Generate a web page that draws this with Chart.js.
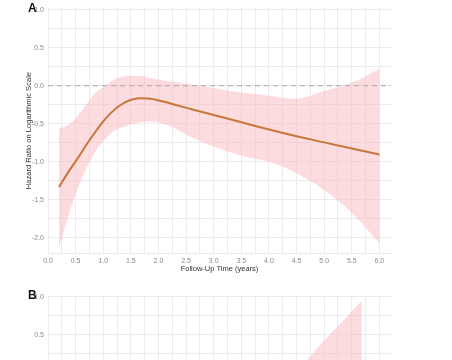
<!DOCTYPE html>
<html>
<head>
<meta charset="utf-8">
<script src="https://cdn.jsdelivr.net/npm/chart.js@4"></script>
<style>
  html, body { margin: 0; padding: 0; background: #fff; }
  body { width: 452px; height: 360px; overflow: hidden; position: relative; }
  .panel { position: absolute; left: 0; width: 452px; height: 280px; }
  .tag { position: absolute; font: bold 12px "Liberation Sans", Arial, sans-serif; color: #111; }
</style>
</head>
<body>
<div class="panel" style="top:0"><canvas id="chartA" width="452" height="280"></canvas></div>
<div class="panel" style="top:287px"><canvas id="chartB" width="452" height="280"></canvas></div>
<div class="tag" style="left:28px;top:1px">A</div>
<div class="tag" style="left:28px;top:288px">B</div>
<script>
// panel A: follow-up years, log hazard ratio and its band
const yearsA = [0.2, 0.4, 0.55, 0.7, 0.85, 1.0, 1.15, 1.3, 1.45, 1.65, 1.85, 2.2, 2.6, 3.0, 3.5, 4.0, 4.5, 5.0, 5.5, 6.0];
const logHrA = [-1.33, -1.10, -0.94, -0.77, -0.615, -0.47, -0.35, -0.26, -0.20, -0.165, -0.17, -0.23, -0.31, -0.385, -0.48, -0.575, -0.665, -0.745, -0.825, -0.905];
const upperA = [-0.57, -0.50, -0.38, -0.24, -0.10, -0.02, 0.06, 0.11, 0.13, 0.13, 0.10, 0.06, 0.02, -0.03, -0.09, -0.13, -0.17, -0.07, 0.04, 0.22];
const lowerA = [-2.13, -1.64, -1.33, -1.08, -0.87, -0.73, -0.62, -0.56, -0.52, -0.48, -0.47, -0.53, -0.68, -0.80, -0.92, -1.00, -1.15, -1.37, -1.67, -2.07];

// panel B (only its top is in view)
const yearsB = [0.2, 1.0, 2.0, 3.0, 4.0, 4.5, 5.0, 5.68];
const logHrB = [-1.2, -0.8, -0.7, -0.6, -0.5, -0.4, -0.3, -0.1];
const upperB = [-0.6, -0.3, -0.25, -0.2, -0.15, 0.04, 0.42, 0.95];
const lowerB = [-2.0, -1.4, -1.2, -1.1, -1.0, -0.95, -1.0, -1.2];

const xTicks = [0, 0.25, 0.5, 0.75, 1, 1.25, 1.5, 1.75, 2, 2.25, 2.5, 2.75, 3, 3.25, 3.5, 3.75, 4, 4.25, 4.5, 4.75, 5, 5.25, 5.5, 5.75, 6];
const yTicks = [-2, -1.75, -1.5, -1.25, -1, -0.75, -0.5, -0.25, 0, 0.25, 0.5, 0.75, 1];

const lineColor = '#c8773a';
const bandColor = 'rgba(250, 185, 192, 0.5)';
const gridColor = '#ebebeb';
const fontFamily = '"Liberation Sans", Arial, sans-serif';

function pts(xs, ys) {
  return xs.map((x, i) => ({ x: x, y: ys[i] }));
}

// dashed reference at log HR = 0
const zeroLine = {
  id: 'zeroLine',
  beforeDatasetsDraw(chart) {
    const { ctx, chartArea, scales } = chart;
    const y = scales.y.getPixelForValue(0);
    ctx.save();
    ctx.strokeStyle = '#a8a8a8';
    ctx.lineWidth = 1;
    ctx.setLineDash([5, 4]);
    ctx.beginPath();
    ctx.moveTo(chartArea.left, y);
    ctx.lineTo(chartArea.right, y);
    ctx.stroke();
    ctx.restore();
  }
};

function labelHalves(v) {
  return Math.abs(v * 2 - Math.round(v * 2)) < 1e-6 ? v.toFixed(1) : '';
}

function makeChart(id, xs, hr, lo, hi, showYTitle) {
  return new Chart(document.getElementById(id), {
    type: 'line',
    data: {
      datasets: [
        { data: pts(xs, lo), order: 2, borderWidth: 0, pointRadius: 0, fill: false, cubicInterpolationMode: 'monotone' },
        { data: pts(xs, hi), order: 1, borderWidth: 0, pointRadius: 0, fill: '-1', backgroundColor: bandColor, cubicInterpolationMode: 'monotone' },
        { data: pts(xs, hr), order: 0, borderColor: lineColor, borderWidth: 2, pointRadius: 0, fill: false, cubicInterpolationMode: 'monotone' }
      ]
    },
    options: {
      responsive: false,
      animation: false,
      layout: { padding: { left: 0, right: 61, top: 8, bottom: 0 } },
      plugins: { legend: { display: false }, tooltip: { enabled: false }, filler: { drawTime: 'beforeDatasetsDraw' } },
      scales: {
        x: {
          type: 'linear',
          min: 0,
          max: 6.21,
          afterBuildTicks: (s) => { s.ticks = xTicks.map(v => ({ value: v })); },
          afterFit: (s) => { s.height = 27; },
          grid: { color: gridColor, drawTicks: false },
          border: { color: gridColor },
          ticks: {
            autoSkip: false,
            maxRotation: 0,
            padding: 4,
            color: '#8a8a8a',
            font: { family: fontFamily, size: 7 },
            callback: labelHalves
          },
          title: {
            display: true,
            text: 'Follow-Up Time (years)',
            color: '#333',
            font: { family: fontFamily, size: 7.5 },
            padding: { top: 0, bottom: 7 }
          }
        },
        y: {
          min: -2.2,
          max: 1.02,
          afterBuildTicks: (s) => { s.ticks = yTicks.map(v => ({ value: v })); },
          afterFit: (s) => { s.width = 48; },
          grid: { color: gridColor, drawTicks: false },
          border: { color: gridColor },
          ticks: {
            autoSkip: false,
            padding: 4,
            color: '#8a8a8a',
            font: { family: fontFamily, size: 7 },
            callback: labelHalves
          },
          title: {
            display: showYTitle,
            text: 'Hazard Ratio on Logarithmic Scale',
            color: '#333',
            font: { family: fontFamily, size: 7.6 },
            padding: { top: 24, bottom: 0 }
          }
        }
      }
    },
    plugins: [zeroLine]
  });
}

makeChart('chartA', yearsA, logHrA, lowerA, upperA, true);
makeChart('chartB', yearsB, logHrB, lowerB, upperB, false);
</script>
</body>
</html>
